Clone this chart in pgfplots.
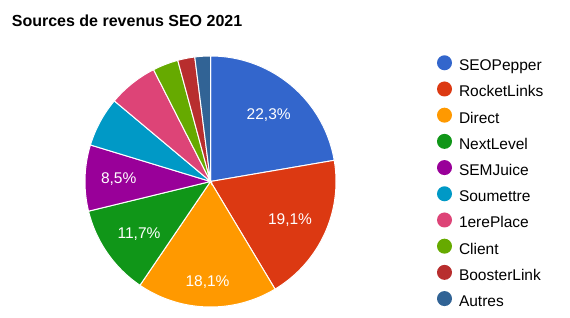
\documentclass[border=0pt]{standalone}
\usepackage{pgfplots}
\pgfplotsset{compat=1.18}
\usepackage{fontspec}
\setmainfont{Liberation Sans}
\definecolor{c1}{HTML}{3366CC}
\definecolor{c2}{HTML}{DC3912}
\definecolor{c3}{HTML}{FF9900}
\definecolor{c4}{HTML}{109618}
\definecolor{c5}{HTML}{990099}
\definecolor{c6}{HTML}{0099C6}
\definecolor{c7}{HTML}{DD4477}
\definecolor{c8}{HTML}{66AA00}
\definecolor{c9}{HTML}{B82E2E}
\definecolor{c10}{HTML}{316395}
\begin{document}
\begin{tikzpicture}
\begin{axis}[
  scale only axis, width=570pt, height=318pt,
  xmin=0, xmax=570, ymin=0, ymax=318,
  hide axis, clip=false,
  legend cell align=left,
  legend style={at={(437/570,1-55.3/318)}, anchor=north west, draw=none, fill=none,
    inner sep=0pt, outer sep=0pt, row sep=0pt,
    font=\fontsize{15.5}{18}\selectfont,
    nodes={inner sep=0pt, text height=15pt, text depth=10.8pt},
    /tikz/every odd column/.append style={column sep=7pt}},
  legend image code/.code={\fill[#1, draw=none] (7.5pt,5.8pt) circle (7.5pt);},
]
\gdef\cum{0}
\foreach \v/\col/\name in {22.3/c1/SEOPepper, 19.1/c2/RocketLinks, 18.1/c3/Direct, 11.7/c4/NextLevel, 8.5/c5/SEMJuice, 6.4/c6/Soumettre, 6.4/c7/1erePlace, 3.3/c8/Client, 2.2/c9/BoosterLink, 2.0/c10/Autres}{%
  \pgfmathsetmacro\a{\cum*3.6}%
  \pgfmathsetmacro\b{(\cum+\v)*3.6}%
  \edef\doslice{\noexpand\addplot[fill=\col, draw=white, line width=1pt, domain=\a:\b, samples=80, variable=\noexpand\t] ({210.5+125.5*sin(\noexpand\t)},{136.5+125.5*cos(\noexpand\t)}) -- (axis cs:210.5,136.5) -- cycle; \noexpand\addlegendentry{\name}}%
  \doslice
  \pgfmathsetmacro\newcum{\cum+\v}%
  \xdef\cum{\newcum}%
}
\node[anchor=base, text=white, font=\fontsize{15.5}{18}\selectfont] at (axis cs:268.7,198.7) {22,3\%};
\node[anchor=base, text=white, font=\fontsize{15.5}{18}\selectfont] at (axis cs:290,93.7) {19,1\%};
\node[anchor=base, text=white, font=\fontsize{15.5}{18}\selectfont] at (axis cs:207.5,31.3) {18,1\%};
\node[anchor=base, text=white, font=\fontsize{15.5}{18}\selectfont] at (axis cs:139,79.7) {11,7\%};
\node[anchor=base, text=white, font=\fontsize{15.5}{18}\selectfont] at (axis cs:118.7,134) {8,5\%};
\node[anchor=base west, inner sep=0pt, font=\bfseries\fontsize{16}{19}\selectfont] at (axis cs:11.7,291.3) {Sources de revenus SEO 2021};
\end{axis}
\pgfresetboundingbox
\path[use as bounding box] (current axis.south west) rectangle (current axis.north east);
\end{tikzpicture}
\end{document}
